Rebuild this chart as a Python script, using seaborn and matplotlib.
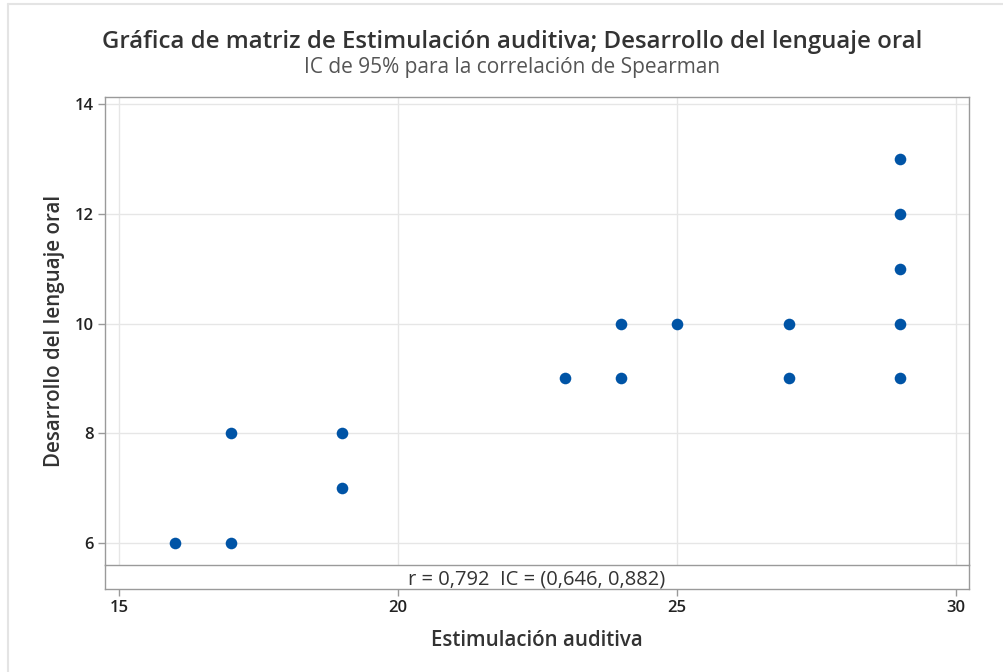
import matplotlib
matplotlib.use("Agg")
import matplotlib.pyplot as plt
import seaborn as sns
import pandas as pd
from matplotlib.lines import Line2D

# Observed scores
estimulacion = [16, 17, 17, 19, 19, 23, 24, 24, 25, 27, 27, 29, 29, 29, 29, 29]
lenguaje = [6, 6, 8, 7, 8, 9, 9, 10, 10, 9, 10, 9, 10, 11, 12, 13]

x_ticks = [15, 20, 25, 30]
y_ticks = [6, 8, 10, 12, 14]

titulo = "Gráfica de matriz de Estimulación auditiva; Desarrollo del lenguaje oral"
subtitulo = "IC de 95% para la correlación de Spearman"
etiqueta_x = "Estimulación auditiva"
etiqueta_y = "Desarrollo del lenguaje oral"
resumen = "r = 0,792  IC = (0,646, 0,882)"

df = pd.DataFrame({etiqueta_x: estimulacion, etiqueta_y: lenguaje})

sns.set_theme(style="white")
plt.rcParams["font.family"] = ["Open Sans", "DejaVu Sans"]

W, H = 1004, 672
fig = plt.figure(figsize=(W / 100, H / 100), dpi=100)
fig.patch.set_facecolor("white")

left, right = 105 / W, 969 / W
top_px, band_px, bottom_px = 97, 565, 589
ax = fig.add_axes([left, 1 - band_px / H, right - left, (band_px - top_px) / H])
ax_band = fig.add_axes([left, 1 - bottom_px / H, right - left, (bottom_px - band_px) / H], sharex=ax)
ax_band.patch.set_alpha(0)

frame = "#9a9a9a"
text_c = "#333333"
grid_c = "#e6e6e6"

sns.scatterplot(data=df, x=etiqueta_x, y=etiqueta_y, ax=ax, color="#0054A6",
                s=70, edgecolor="#0054A6", linewidth=0, zorder=3)

ax.set_xlim(14.75, 30.23)
ax.set_ylim(5.6, 14.13)
ax.set_xticks(x_ticks)
ax.set_yticks(y_ticks)
ax.grid(True, color=grid_c, linewidth=1)
ax.set_axisbelow(True)
ax.tick_params(axis="x", bottom=False, labelbottom=False)
ax.tick_params(axis="y", left=True, length=5, width=1, color=frame,
               labelsize=12, labelcolor="#222222", pad=3)
for lab in ax.get_yticklabels():
    lab.set_fontweight("semibold")
ax.set_xlabel("")
ax.set_ylabel(etiqueta_y, fontsize=14.8, color=text_c, labelpad=7, fontweight="semibold")
for s in ax.spines.values():
    s.set_color(frame)
    s.set_linewidth(1)

ax_band.set_ylim(0, 1)
ax_band.set_yticks([])
ax_band.set_xticks(x_ticks)
ax_band.tick_params(axis="x", bottom=True, length=5, width=1, color=frame,
                    labelsize=12, labelcolor="#222222", pad=3)
for lab in ax_band.get_xticklabels():
    lab.set_fontweight("semibold")
for s in ax_band.spines.values():
    s.set_color(frame)
    s.set_linewidth(1)
ax_band.spines["top"].set_visible(False)
ax_band.text(0.5, 0.38, resumen, transform=ax_band.transAxes, ha="center", va="center",
             fontsize=14.5, color=text_c)
ax_band.set_xlabel(etiqueta_x, fontsize=14.8, color=text_c, labelpad=10, fontweight="semibold")

fig.text(512 / W, 1 - 42 / H, titulo, ha="center", va="center", fontsize=17.3,
         fontweight="semibold", color=text_c)
fig.text(512 / W, 1 - 68 / H, subtitulo, ha="center", va="center", fontsize=15,
         color="#555555")

# light window border
fig.add_artist(Line2D([8 / W, 1], [1 - 4 / H, 1 - 4 / H], transform=fig.transFigure,
                      color="#e4e4e4", linewidth=1.5))
fig.add_artist(Line2D([8 / W, 8 / W], [0, 1 - 4 / H], transform=fig.transFigure,
                      color="#e4e4e4", linewidth=1.5))

fig.savefig("out.png", dpi=100, facecolor="white")
